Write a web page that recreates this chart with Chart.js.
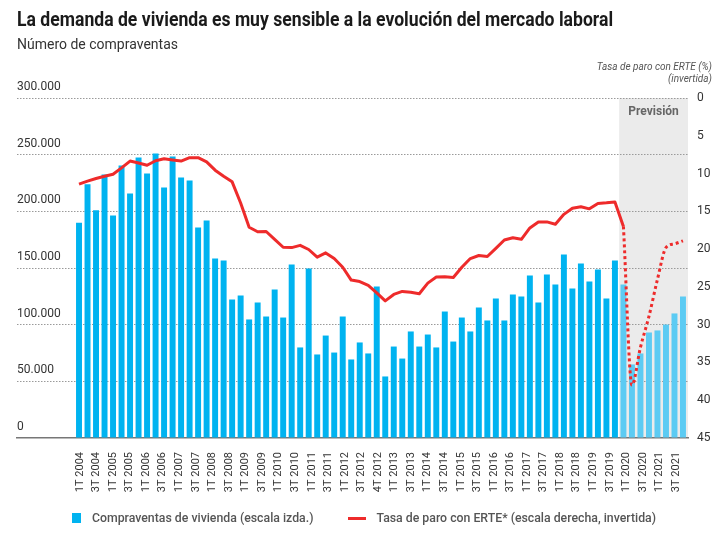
<!DOCTYPE html>
<html>
<head>
<meta charset="utf-8">
<script src="https://cdn.jsdelivr.net/npm/chart.js@4.4.1/dist/chart.umd.min.js"></script>
<style>
  html, body { margin: 0; padding: 0; background: #fff; }
  #wrap { position: relative; width: 728px; height: 538px; overflow: hidden; font-family: Roboto, "Liberation Sans", sans-serif; }
  #chart { position: absolute; left: 0; top: 0; }
  .title { position: absolute; left: 17px; top: 8px; font-size: 20px; font-weight: 700; color: #1a1a1a; white-space: nowrap; line-height: 23px; transform: scaleX(0.88); transform-origin: left center; }
  .subtitle { position: absolute; left: 17px; top: 36px; font-size: 14px; color: #333; white-space: nowrap; line-height: 17px; }
  .rtitle { position: absolute; right: 16px; top: 61px; font-size: 10px; font-style: italic; color: #555; text-align: right; line-height: 11.5px; }
  .legend { position: absolute; left: 0; top: 511px; width: 728px; display: flex; justify-content: center; align-items: center; font-size: 12.3px; font-weight: 500; color: #555; }
  .legend .item { display: flex; align-items: center; }
  .legend .sq { width: 9px; height: 10px; background: #00B3F0; margin-right: 11px; }
  .legend .ln { width: 18px; height: 3px; background: #EE2B2B; margin-right: 10px; }
</style>
</head>
<body>
<div id="wrap">
  <canvas id="chart" width="728" height="538"></canvas>
  <div class="title">La demanda de vivienda es muy sensible a la evolución del mercado laboral</div>
  <div class="subtitle">Número de compraventas</div>
  <div class="rtitle">Tasa de paro con ERTE (%)<br>(invertida)</div>
  <div class="legend">
    <div class="item"><div class="sq"></div><span>Compraventas de vivienda (escala izda.)</span></div>
    <div class="item" style="margin-left:35px"><div class="ln"></div><span>Tasa de paro con ERTE* (escala derecha, invertida)</span></div>
  </div>
</div>
<script>
// Quarterly home sales, 1T 2004 .. 4T 2021 (72 quarters; 2020-2021 = forecast)
const compraventas = [
  190000, 224000, 201000, 232500, 196300, 240400, 215700, 247500,
  233400, 251000, 221000, 248400, 229900, 227200, 185700, 191900,
  158400, 156600, 122200, 125700, 104600, 119600, 107200, 131000,
  106300, 153100, 79900, 149600, 73700, 90400, 75400, 107200,
  69300, 84300, 74600, 133700, 54300, 80700, 70100, 94000,
  80700, 91300, 79900, 111600, 85100, 106300, 94000, 115100,
  103700, 123100, 103700, 126600, 124900, 143400, 119600, 144300,
  135400, 161900, 131900, 154000, 138100, 148700, 123100, 156600,
  135400, 64900, 74600, 93100, 94900, 100100, 109900, 124900
];
// Unemployment rate incl. ERTE (%), observed: 1T 2004 .. 1T 2020
const paroReal = [
  11.4, 11.0, 10.65, 10.35, 10.1, 9.25, 8.35, 8.6,
  8.9, 8.3, 8.05, 8.2, 8.35, 7.9, 7.9, 8.45,
  9.55, 10.35, 11.1, 13.9, 17.1, 17.7, 17.67, 18.7,
  19.75, 19.8, 19.5, 20.05, 21.07, 20.5, 21.25, 22.4,
  24.1, 24.3, 24.8, 25.8, 26.85, 26.0, 25.6, 25.7,
  25.9, 24.5, 23.7, 23.65, 23.76, 22.4, 21.25, 20.85,
  20.98, 19.9, 18.8, 18.5, 18.7, 17.2, 16.4, 16.4,
  16.7, 15.4, 14.6, 14.4, 14.67, 13.96, 13.87, 13.75,
  17.0
];
// Forecast: 1T 2020 .. 4T 2021
const paroPrevision = [17.0, 38.0, 33.0, 28.9, 24.0, 19.8, 19.3, 18.9];
const forecastStart = 64; // index of 1T 2020
const tickLabels = [
  "1T 2004","3T 2004","1T 2005","3T 2005","1T 2006","3T 2006","1T 2007","3T 2007",
  "1T 2008","3T 2008","1T 2009","3T 2009","1T 2010","3T 2010","1T 2011","3T 2011",
  "1T 2012","3T 2012","4T 2012","1T 2013","3T 2013","1T 2014","3T 2014","1T 2015",
  "3T 2015","1T 2016","3T 2016","1T 2017","3T 2017","1T 2018","3T 2018","1T 2019",
  "3T 2019","1T 2020","3T 2020","1T 2021","3T 2021"
];
const leftTicks = [0, 50000, 100000, 150000, 200000, 250000, 300000];

const BLUE = '#00B3F0', BLUE_LIGHT = '#5CCBF3', RED = '#EE2B2B';

const barData = compraventas.map((v, i) => ({x: i, y: v}));
const realData = paroReal.map((v, i) => ({x: i, y: v}));
const prevData = paroPrevision.map((v, i) => ({x: forecastStart + i, y: v}));

const fmt = v => String(v).replace(/\B(?=(\d{3})+(?!\d))/g, '.');

const shadePlugin = {
  id: 'shade',
  beforeDraw(chart) {
    const {ctx, chartArea, scales} = chart;
    const x0 = scales.x.getPixelForValue(forecastStart - 0.5);
    ctx.save();
    ctx.fillStyle = '#EBEBEB';
    ctx.fillRect(x0, chartArea.top, chartArea.right - x0, chartArea.bottom - chartArea.top);
    ctx.fillStyle = '#666';
    ctx.font = 'bold 12px Roboto';
    ctx.textAlign = 'center';
    ctx.textBaseline = 'middle';
    ctx.fillText('Previsión', (x0 + chartArea.right) / 2, chartArea.top + 14);
    ctx.restore();
  }
};

Chart.defaults.font.family = 'Roboto';
Chart.defaults.color = '#333';

new Chart(document.getElementById('chart'), {
  type: 'bar',
  data: {
    datasets: [
      {
        type: 'line', label: 'Tasa de paro con ERTE* (escala derecha, invertida)',
        data: realData, xAxisID: 'x', yAxisID: 'y2',
        borderColor: RED, borderWidth: 3, pointRadius: 0, tension: 0, order: 0,
        borderJoinStyle: 'round'
      },
      {
        type: 'line', label: 'Previsión paro',
        data: prevData, xAxisID: 'x', yAxisID: 'y2',
        borderColor: RED, borderWidth: 3, borderDash: [3, 3], pointRadius: 0,
        cubicInterpolationMode: 'monotone', order: 0
      },
      {
        type: 'bar', label: 'Compraventas de vivienda (escala izda.)',
        data: barData, xAxisID: 'x', yAxisID: 'y',
        backgroundColor: ctx => ctx.dataIndex >= forecastStart ? BLUE_LIGHT : BLUE,
        barPercentage: 0.7, categoryPercentage: 1, order: 1
      }
    ]
  },
  options: {
    responsive: false,
    animation: false,
    layout: { padding: { left: 17, right: 0, top: 98, bottom: 0 } },
    plugins: { legend: { display: false }, tooltip: { enabled: false } },
    scales: {
      x: {
        type: 'linear', display: false, offset: false,
        min: -7.29, max: 71.59
      },
      x2: {
        type: 'linear', position: 'bottom', offset: false,
        min: -3.80, max: 36.72,
        afterBuildTicks: s => { s.ticks = tickLabels.map((l, i) => ({value: i})); },
        afterFit: s => { s.height = 100; },
        grid: { display: false, drawTicks: false },
        border: { display: true, color: '#777', width: 1.5 },
        ticks: {
          autoSkip: false, minRotation: 90, maxRotation: 90, padding: 14,
          font: { size: 11 }, color: '#333',
          callback: v => tickLabels[v] !== undefined ? tickLabels[v] : ''
        }
      },
      y: {
        position: 'left', min: 0, max: 300000,
        afterBuildTicks: s => { s.ticks = leftTicks.map(v => ({value: v})); },
        grid: {
          drawTicks: false, lineWidth: 1,
          color: c => (c.tick && c.tick.value === 0) ? 'rgba(0,0,0,0)' : '#9a9a9a'
        },
        border: { display: false, dash: [1.5, 1.5] },
        ticks: {
          mirror: true, padding: 0, labelOffset: -11, crossAlign: 'near',
          font: { size: 12 }, color: '#333',
          callback: v => fmt(v)
        }
      },
      y2: {
        position: 'right', min: 0, max: 45, reverse: true,
        afterFit: s => { s.width = 40; },
        grid: { display: false, drawTicks: false },
        border: { display: false },
        ticks: { stepSize: 5, padding: 9, font: { size: 12 }, color: '#333' }
      }
    }
  },
  plugins: [shadePlugin]
});
</script>
</body>
</html>
